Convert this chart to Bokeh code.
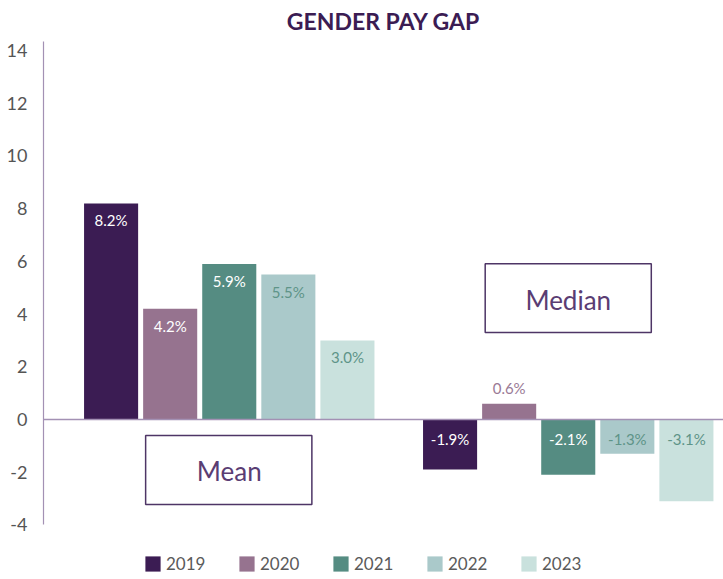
from bokeh.plotting import figure
from bokeh.models import Range1d, FixedTicker, Span, Label, Legend, LegendItem, ColumnDataSource
from bokeh.embed import file_html
from bokeh.resources import INLINE

# ---- data ----
groups = ["Mean", "Median"]
years = ["2019", "2020", "2021", "2022", "2023"]
mean_gap = [8.2, 4.2, 5.9, 5.5, 3.0]
median_gap = [-1.9, 0.6, -2.1, -1.3, -3.1]
y_ticks = [-4, -2, 0, 2, 4, 6, 8, 10, 12, 14]
title = "GENDER PAY GAP"

# ---- styles ----
bar_colors = ["#3b1c53", "#96738f", "#558c82", "#aac9ca", "#c9e1dd"]
label_colors = ["#ffffff", "#ffffff", "#ffffff", "#5e9488", "#5e9488"]
above_label_colors = ["#3b1c53", "#9a7a96", "#558c82", "#5e9488", "#5e9488"]
FONT = "Lato"
PURPLE_LINE = "#a391b4"

W, H = 723, 579
p = figure(width=W, height=H, output_backend="svg", toolbar_location=None,
           x_range=Range1d(-0.548, 1.458), y_range=Range1d(-6.07, 15.90),
           x_axis_location=None, min_border_left=43, min_border_right=0,
           min_border_top=0, min_border_bottom=0)
p.outline_line_color = None
p.grid.visible = False
p.background_fill_color = "white"

pitch = 0.1743
bw = 0.1595
renderers = []
for i, yr in enumerate(years):
    off = (i - 2) * pitch
    vals = [mean_gap[i], median_gap[i]]
    xs = [g + off for g in range(len(groups))]
    src = ColumnDataSource(dict(x=xs, top=vals))
    r = p.vbar(x="x", top="top", bottom=0, width=bw, source=src,
               fill_color=bar_colors[i], line_color=None)
    renderers.append(r)
    # value labels
    for x, v in zip(xs, vals):
        txt = f"{v:.1f}%"
        if v >= 1:
            kw = dict(y=v, y_offset=-17, text_color=label_colors[i])
        elif v > 0:
            kw = dict(y=v, y_offset=16, text_color=above_label_colors[i])
        else:
            kw = dict(y=0, y_offset=-19, text_color=label_colors[i])
        p.add_layout(Label(x=x, text=txt, text_align="center", text_baseline="middle",
                           text_font=FONT, text_font_size="15px", **kw))

# zero line
p.add_layout(Span(location=0, dimension="width", line_color=PURPLE_LINE, line_width=1.5))

# y axis
p.yaxis.ticker = FixedTicker(ticks=y_ticks)
p.yaxis.bounds = (-4, 14.35)
p.yaxis.major_label_overrides = {t: str(t) for t in y_ticks}
p.yaxis.axis_line_color = PURPLE_LINE
p.yaxis.axis_line_width = 1.2
p.yaxis.major_tick_line_color = None
p.yaxis.minor_tick_line_color = None
p.yaxis.major_label_text_font = FONT
p.yaxis.major_label_text_font_size = "18px"
p.yaxis.major_label_text_color = "#555555"
p.yaxis.major_label_standoff = 10

# group boxes
box_line = "#4e3566"
p.quad(left=[-0.2467, 0.755], right=[0.2437, 1.245], bottom=[-3.22, 3.30], top=[-0.606, 5.91],
       fill_color=None, line_color=box_line, line_width=1.5)
p.add_layout(Label(x=0.0, y=-1.95, text=groups[0], text_align="center", text_baseline="middle",
                   text_font=FONT, text_font_size="26px", text_color="#5a3d73"))
p.add_layout(Label(x=1.0, y=4.55, text=groups[1], text_align="center", text_baseline="middle",
                   text_font=FONT, text_font_size="26px", text_color="#5a3d73"))

# title
p.add_layout(Label(x=0.455, y=15.14, text=title, text_align="center",
                   text_baseline="middle", text_font=FONT, text_font_size="23px",
                   text_font_style="bold", text_color="#3b1c53"))

# legend
legend = Legend(items=[LegendItem(label=yr, renderers=[r]) for yr, r in zip(years, renderers)],
                orientation="horizontal", location=(100, 5),
                glyph_width=19, glyph_height=19, label_height=19, label_width=70,
                label_standoff=4, spacing=1, padding=0, margin=0,
                border_line_color=None, background_fill_alpha=0,
                label_text_font=FONT, label_text_font_size="17px", label_text_color="#5a5a5a")
p.add_layout(legend, "center")

open("out.html", "w").write(file_html(p, INLINE))
